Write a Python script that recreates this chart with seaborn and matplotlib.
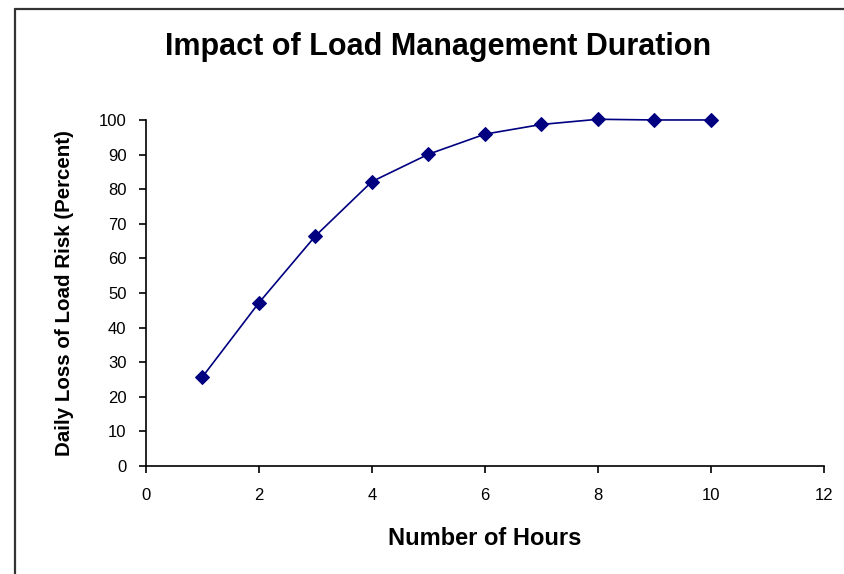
import matplotlib
matplotlib.use('Agg')
import matplotlib.pyplot as plt
from matplotlib.lines import Line2D
import seaborn as sns
import pandas as pd

# data
hours = [1, 2, 3, 4, 5, 6, 7, 8, 9, 10]
risk = [25.8, 47.2, 66.5, 82.2, 90.1, 95.9, 98.7, 100.2, 100.0, 100.0]
x_ticks = [0, 2, 4, 6, 8, 10, 12]
y_ticks = [0, 10, 20, 30, 40, 50, 60, 70, 80, 90, 100]

df = pd.DataFrame({'Hours': hours, 'Risk': risk})

sns.set_style('white')
plt.rcParams['font.family'] = ['Liberation Sans', 'DejaVu Sans']
plt.rcParams['text.color'] = 'black'
plt.rcParams['axes.labelcolor'] = 'black'

fig = plt.figure(figsize=(8.44, 5.74), dpi=100)
ax = fig.add_axes([0.173, 0.188, 0.803, 0.603])

sns.lineplot(data=df, x='Hours', y='Risk', ax=ax, color='#000080',
             marker='D', markersize=7, markeredgecolor='#000080',
             linewidth=1.2, clip_on=False)

ax.set_xlim(0, 12)
ax.set_ylim(0, 100)
ax.set_xticks(x_ticks)
ax.set_yticks(y_ticks)
ax.tick_params(axis='both', direction='out', length=5, width=1.2,
               colors='black', labelsize=12, pad=9, bottom=True, left=True)
ax.tick_params(axis='x', pad=11)
sns.despine(ax=ax)
for s in ['left', 'bottom']:
    ax.spines[s].set_color('black')
    ax.spines[s].set_linewidth(1.2)

ax.set_xlabel('Number of Hours', fontsize=17, fontweight='bold', labelpad=17)
ax.set_ylabel('Daily Loss of Load Risk (Percent)', fontsize=14.8, fontweight='bold', labelpad=18)
fig.text(0.519, 0.918, 'Impact of Load Management Duration', ha='center', va='center',
         fontsize=22, fontweight='bold')

# chart frame (top and left edges visible)
fig.add_artist(Line2D([0.018, 0.018], [0.0, 0.985], transform=fig.transFigure, color='#333333', linewidth=1.6))
fig.add_artist(Line2D([0.018, 1.0], [0.985, 0.985], transform=fig.transFigure, color='#333333', linewidth=1.6))

fig.savefig('out.png', dpi=100)
